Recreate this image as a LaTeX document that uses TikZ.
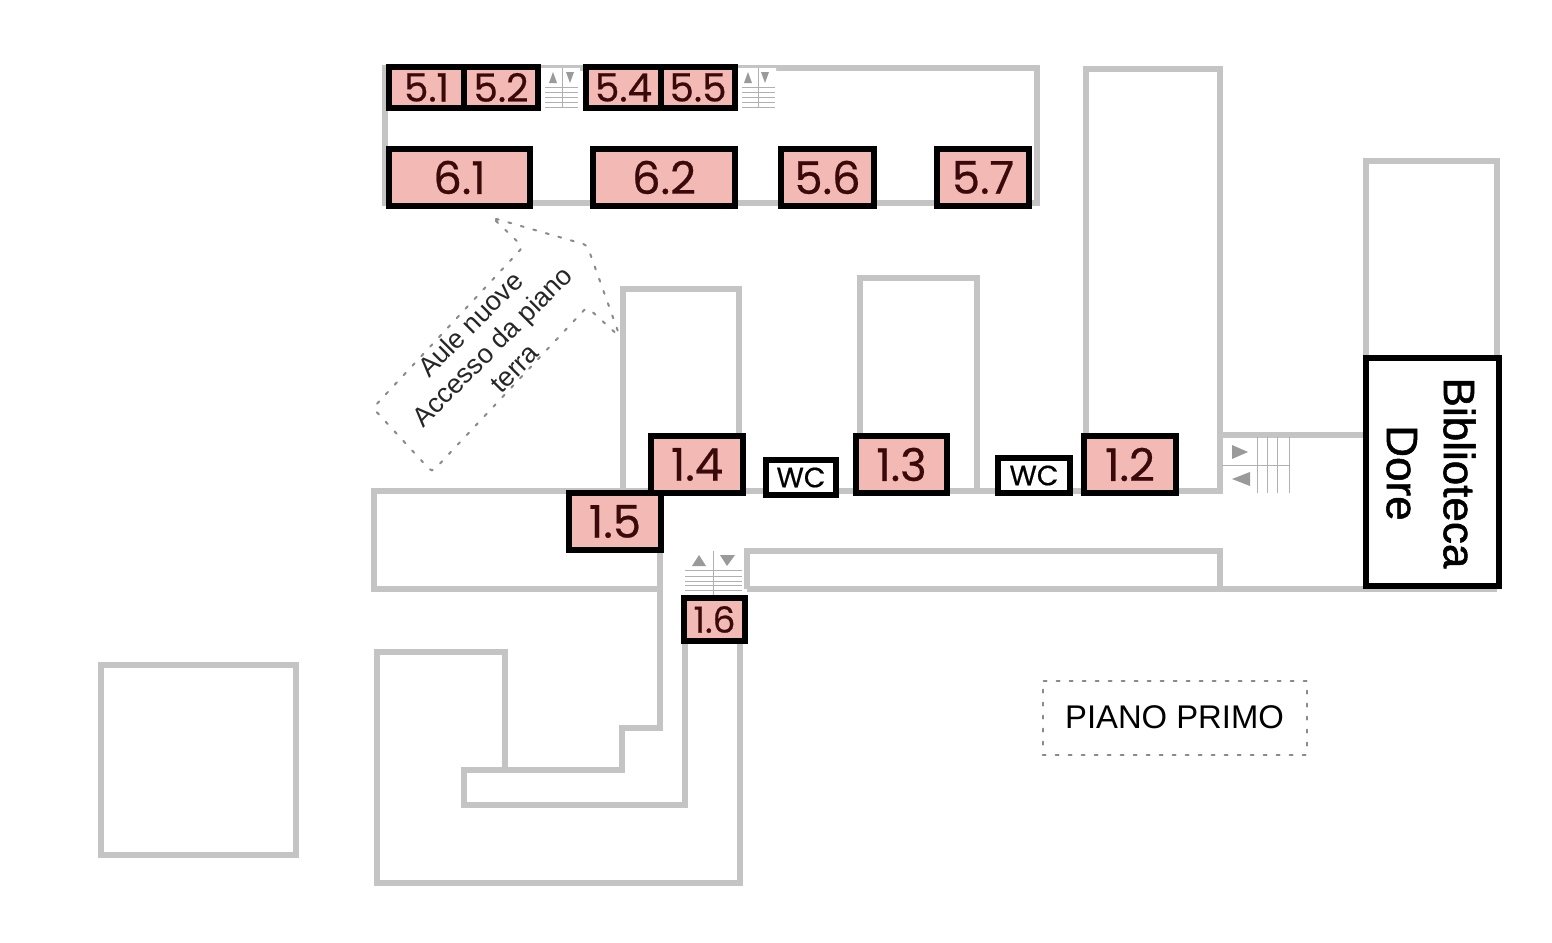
\documentclass[tikz,border=0pt]{standalone}
\usepackage{fontspec}
\setmainfont{Liberation Sans}
\newfontfamily\roomfont[FakeBold=0.5]{Poppins}
\newfontfamily\bibfont[FakeBold=1.2]{Liberation Sans}
\begin{document}
\begin{tikzpicture}[x=0.5pt,y=-0.5pt,
  wall/.style={draw=wallgray,line width=2.7pt,line join=miter},
  room/.style={draw=black,line width=2.8pt,fill=roompink,text=roomtext,inner sep=0pt,anchor=center},
  smallroom/.style={room,minimum height=20.5pt,font=\roomfont\fontsize{19.5}{19.5}\selectfont},
  bigroom/.style={room,minimum height=28.5pt,font=\roomfont\fontsize{22.5}{22.5}\selectfont},
  plainroom/.style={draw=black,line width=2.8pt,fill=white,inner sep=0pt,text=black},
  wcroom/.style={plainroom,minimum height=17.5pt,font=\roomfont\fontsize{14}{14}\selectfont},
  stairline/.style={draw=stairgray,line width=0.5pt},
  stairtri/.style={fill=trigray,draw=none},
  dotted line/.style={draw=dotgray,line width=1pt,dash pattern=on 1.5pt off 5pt,line cap=round},
  callout/.style={dotted line,rounded corners=2pt}]
\definecolor{wallgray}{HTML}{C4C4C4}
\definecolor{roompink}{HTML}{F2B9B5}
\definecolor{roomtext}{HTML}{3A0A0A}
\definecolor{stairgray}{HTML}{B0B0B0}
\definecolor{trigray}{HTML}{9A9A9A}
\definecolor{dotgray}{HTML}{8A8A8A}
\useasboundingbox (0,0) rectangle (1552,942);
% walls
\draw[wall] (385,68) -- (1037,68) -- (1037,203) -- (385,203) -- cycle;
\draw[wall] (1086,440) -- (1086,69) -- (1220,69) -- (1220,491) -- (374,491) -- (374,589) -- (660,589);
\draw[wall] (1220,435) -- (1366,435);
\draw[wall] (1366,360) -- (1366,161) -- (1497,161) -- (1497,360);
\draw[wall] (623,491) -- (623,289) -- (739,289) -- (739,440);
\draw[wall] (860,440) -- (860,278) -- (977,278) -- (977,491);
\draw[wall] (660,545) -- (660,728) -- (622,728) -- (622,770) -- (464,770) -- (464,805) -- (685,805) -- (685,635);
\draw[wall] (505,770) -- (505,652) -- (377,652) -- (377,883) -- (740,883) -- (740,635);
\draw[wall] (747,589) -- (747,551) -- (1220,551) -- (1220,589);
\draw[wall] (747,589) -- (1497,589);
\draw[wall,line width=3.2pt] (101,665) rectangle (296,855);
% stairs
\fill[white] (541,68) rectangle (580,108) (738,68) rectangle (776,108);
\draw[stairline] (545,87) -- (578,87) (545,92) -- (578,92) (545,97) -- (578,97) (545,102) -- (578,102) (545,107) -- (578,107) (562,68) -- (562,108);
\fill[stairtri] (549,83) -- (553,72) -- (557,83) -- cycle (566,72) -- (574,72) -- (570,83) -- cycle;
\draw[stairline] (742,87) -- (775,87) (742,92) -- (775,92) (742,97) -- (775,97) (742,102) -- (775,102) (742,107) -- (775,107) (758,68) -- (758,108);
\fill[stairtri] (744,83) -- (748,72) -- (752,83) -- cycle (761,72) -- (769,72) -- (765,83) -- cycle;
\draw[stairline] (1222,465) -- (1289,465) (1257,437) -- (1257,493) (1267,437) -- (1267,493) (1277,437) -- (1277,493) (1289,437) -- (1289,493);
\fill[stairtri] (1232,445) -- (1248,452) -- (1232,459) -- cycle (1250,472) -- (1232,479) -- (1250,486) -- cycle;
\draw[stairline] (685,570) -- (742,570) (685,576) -- (742,576) (685,581) -- (742,581) (685,585) -- (742,585) (685,590) -- (742,590) (713,551) -- (713,597);
\fill[stairtri] (692,566) -- (699,555) -- (706,566) -- cycle (720,555) -- (735,555) -- (727,566) -- cycle;
% rooms
\node[smallroom,minimum width=37.5pt] (r51) at (426.5,87.5) {5.1};
\node[smallroom,minimum width=37pt] (r52) at (501,87.5) {5.2};
\node[smallroom,minimum width=37.5pt] (r54) at (623.5,87.5) {5.4};
\node[smallroom,minimum width=37pt] (r55) at (698,87.5) {5.5};
\node[bigroom,minimum width=70.5pt] (r61) at (459.5,177.5) {6.1};
\node[bigroom,minimum width=71pt] (r62) at (664,177.5) {6.2};
\node[bigroom,minimum width=46.5pt] (r56) at (827.5,177.5) {5.6};
\node[bigroom,minimum width=46pt] (r57) at (983,177.5) {5.7};
\node[bigroom,minimum width=46pt] (r14) at (697,464.5) {1.4};
\node[bigroom,minimum width=45.5pt] (r13) at (901.5,464.5) {1.3};
\node[bigroom,minimum width=46pt] (r12) at (1130,464.5) {1.2};
\node[bigroom,minimum width=46pt] (r15) at (615,521.5) {1.5};
\node[room,minimum width=30.5pt,minimum height=21.5pt,font=\roomfont\fontsize{18}{18}\selectfont] (r16) at (714.5,619.5) {1.6};
\node[wcroom,minimum width=35pt] (wc1) at (801,477.5) {WC};
\node[wcroom,minimum width=36pt] (wc2) at (1034,475.5) {WC};
\node[plainroom,minimum width=66.5pt,minimum height=114pt] (bib) at (1432.5,472) {};
\node[rotate=-90,align=center,font=\bibfont\fontsize{22}{28.5}\selectfont] (bibtext) at (1431,473) {Biblioteca\\Dore};
% callout
\draw[callout] (493,218) -- (523,247) -- (373,408) -- (432,472) -- (587,307) -- (620,337) -- (587,245) -- cycle;
\node[rotate=45,align=center,text=black!85,font=\fontsize{13.5}{15.5}\selectfont] (calloutlabel) at (492,346) {Aule nuove\\Accesso da piano\\terra};
% label
\node[dotted line,minimum width=132pt,minimum height=37pt,inner sep=0pt,font=\fontsize{16.4}{18}\selectfont] (piano) at (1174.5,717.5) {PIANO PRIMO};
\end{tikzpicture}
\end{document}
